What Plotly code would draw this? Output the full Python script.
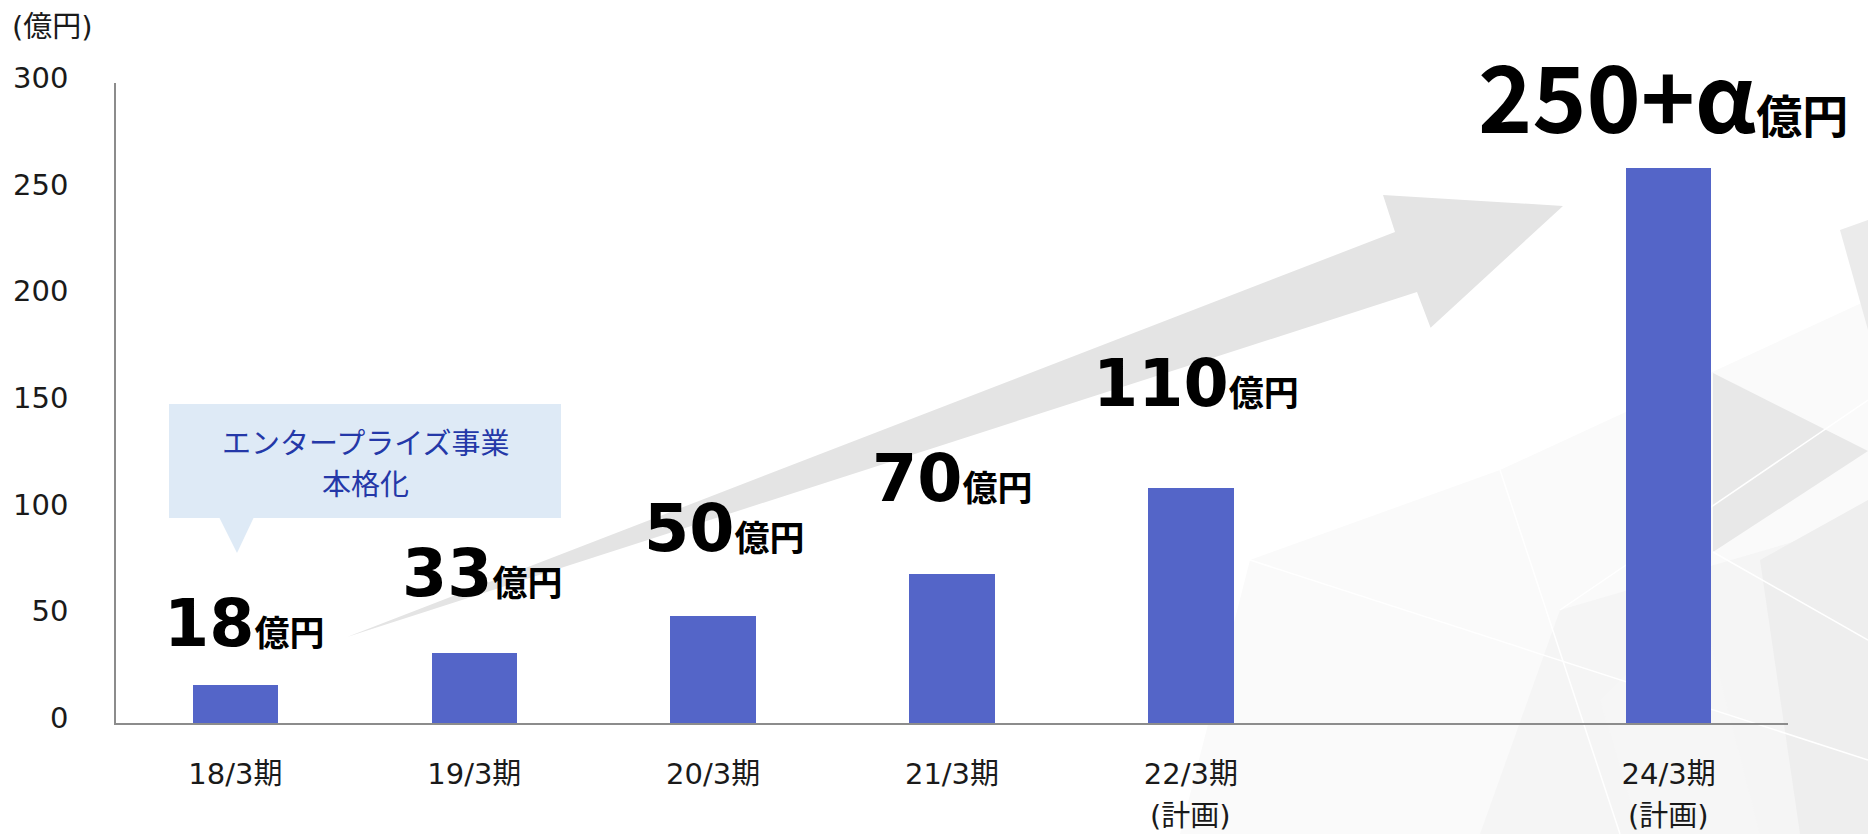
import plotly.graph_objects as go

# ---------------- data ----------------
periods = ["18/3期", "19/3期", "20/3期", "21/3期", "22/3期", "24/3期"]
period_pos = [0, 1, 2, 3, 4, 6]          # 23/3 slot left empty
plan_notes = ["", "", "", "", "(計画)", "(計画)"]
sales = [18, 33, 50, 70, 110, 260]       # 億円
label_nums = ["18", "33", "50", "70", "110", "250+α"]
y_ticks = [0, 50, 100, 150, 200, 250, 300]
unit_label = "(億円)"
callout_lines = ["エンタープライズ事業", "本格化"]

# ---------------- layout helpers ----------------
W, H = 1868, 834
L, R, T, B = 116, 80, 83, 111
PW, PH = W - L - R, H - T - B


def px(x):
    return (x - L) / PW


def py(y):
    return (H - B - y) / PH


def path(points):
    return "M " + " L ".join(f"{px(x):.5f},{py(y):.5f}" for x, y in points) + " Z"


fig = go.Figure()
fig.add_trace(go.Bar(
    x=period_pos, y=sales, width=0.358,
    marker=dict(color="#5465C8", line=dict(width=0)),
    hoverinfo="skip", showlegend=False,
))

shapes = []
# faint geometric background on the right
bg_polys = [
    ([(1180, 834), (1250, 560), (1500, 470), (1868, 300), (1868, 834)], "#FAFAFA"),
    ([(1480, 834), (1560, 610), (1868, 520), (1868, 834)], "#F5F5F5"),
    ([(1713, 373), (1868, 451), (1713, 552)], "#E8E8E8"),
    ([(1760, 560), (1868, 500), (1868, 834), (1800, 834)], "#EEEEEE"),
    ([(1840, 230), (1868, 220), (1868, 330)], "#EBEBEB"),
    ([(1600, 700), (1700, 600), (1760, 834), (1640, 834)], "#F6F6F6"),
]
for pts, col in bg_polys:
    shapes.append(dict(type="path", xref="paper", yref="paper", path=path(pts),
                       fillcolor=col, line=dict(width=0), layer="below"))
# thin white facet lines
for (x0, y0, x1, y1) in [(1250, 560, 1868, 760), (1500, 470, 1620, 834),
                         (1560, 610, 1868, 400), (1713, 552, 1868, 640)]:
    shapes.append(dict(type="line", xref="paper", yref="paper",
                       x0=px(x0), y0=py(y0), x1=px(x1), y1=py(y1),
                       line=dict(color="#FFFFFF", width=1.5), layer="below"))

# big growth arrow
arrow_pts = [(347, 637), (1395, 232), (1383, 195), (1563, 206),
             (1430.6, 327.7), (1417, 292)]
shapes.append(dict(type="path", xref="paper", yref="paper", path=path(arrow_pts),
                   fillcolor="#E4E4E4", line=dict(width=0), layer="below"))

# callout box and pointer
shapes.append(dict(type="rect", xref="paper", yref="paper",
                   x0=px(169), x1=px(561), y0=py(518), y1=py(404),
                   fillcolor="#DEEAF6", line=dict(width=0), layer="below"))
shapes.append(dict(type="path", xref="paper", yref="paper",
                   path=path([(219, 517), (254, 517), (237, 553)]),
                   fillcolor="#DEEAF6", line=dict(width=0), layer="below"))

annotations = []
# value labels
label_yshift = [61, 79, 88, 95, 105, 76]
label_xshift = [9, 8, 11, 0, 5, -6]
for i, (xp, v, num) in enumerate(zip(period_pos, sales, label_nums)):
    if i < 5:
        txt = f"{num}<span style='font-size:35px'>億円</span>"
        fnt = dict(family="DejaVu Sans, Noto Sans CJK JP", size=65, color="#000000", weight=700)
    else:
        txt = f"{num}<span style='font-size:46px'>億円</span>"
        fnt = dict(family="Noto Sans CJK JP", size=92, color="#000000", weight=700)
    annotations.append(dict(x=xp, y=v, xref="x", yref="y", text=txt, showarrow=False,
                            xanchor="center", yanchor="middle",
                            yshift=label_yshift[i], xshift=label_xshift[i], font=fnt))

# plan notes under tick labels
for xp, note in zip(period_pos, plan_notes):
    if note:
        annotations.append(dict(x=xp, y=py(816), xref="x", yref="paper", text=note,
                                showarrow=False, xanchor="center", yanchor="middle",
                                font=dict(family="DejaVu Sans, Noto Sans CJK JP", size=29,
                                          color="#1a1a1a")))

# unit label
annotations.append(dict(x=px(10), y=py(27), xref="paper", yref="paper", text=unit_label,
                        showarrow=False, xanchor="left", yanchor="middle",
                        font=dict(family="DejaVu Sans, Noto Sans CJK JP", size=29,
                                  color="#1a1a1a")))

# callout text (two lines)
for line_txt, yc in zip(callout_lines, [441, 482]):
    annotations.append(dict(x=px(365), y=py(yc), xref="paper", yref="paper",
                            text=line_txt, showarrow=False,
                            xanchor="center", yanchor="middle",
                            font=dict(family="Noto Sans CJK JP", size=29, color="#2438A8")))

fig.update_layout(
    width=W, height=H,
    margin=dict(l=L, r=R, t=T, b=B, pad=0),
    paper_bgcolor="#FFFFFF", plot_bgcolor="rgba(0,0,0,0)",
    shapes=shapes, annotations=annotations,
    bargap=0,
    xaxis=dict(range=[-0.5, 6.5], tickvals=period_pos, ticktext=periods,
               showgrid=False, zeroline=False, showline=True, linecolor="#8C8C8C",
               linewidth=1.5, ticks="", ticklabelstandoff=24,
               tickfont=dict(family="DejaVu Sans, Noto Sans CJK JP", size=29, color="#1a1a1a"),
               fixedrange=True),
    yaxis=dict(range=[0, 300], tickvals=y_ticks, showgrid=False, zeroline=False,
               showline=True, linecolor="#8C8C8C", linewidth=1.5, ticks="",
               ticklabelstandoff=40, ticklabelshift=-5,
               tickfont=dict(family="DejaVu Sans, Noto Sans CJK JP", size=29, color="#1a1a1a"),
               fixedrange=True),
)

fig.write_html("out.html", config={"displayModeBar": False})
